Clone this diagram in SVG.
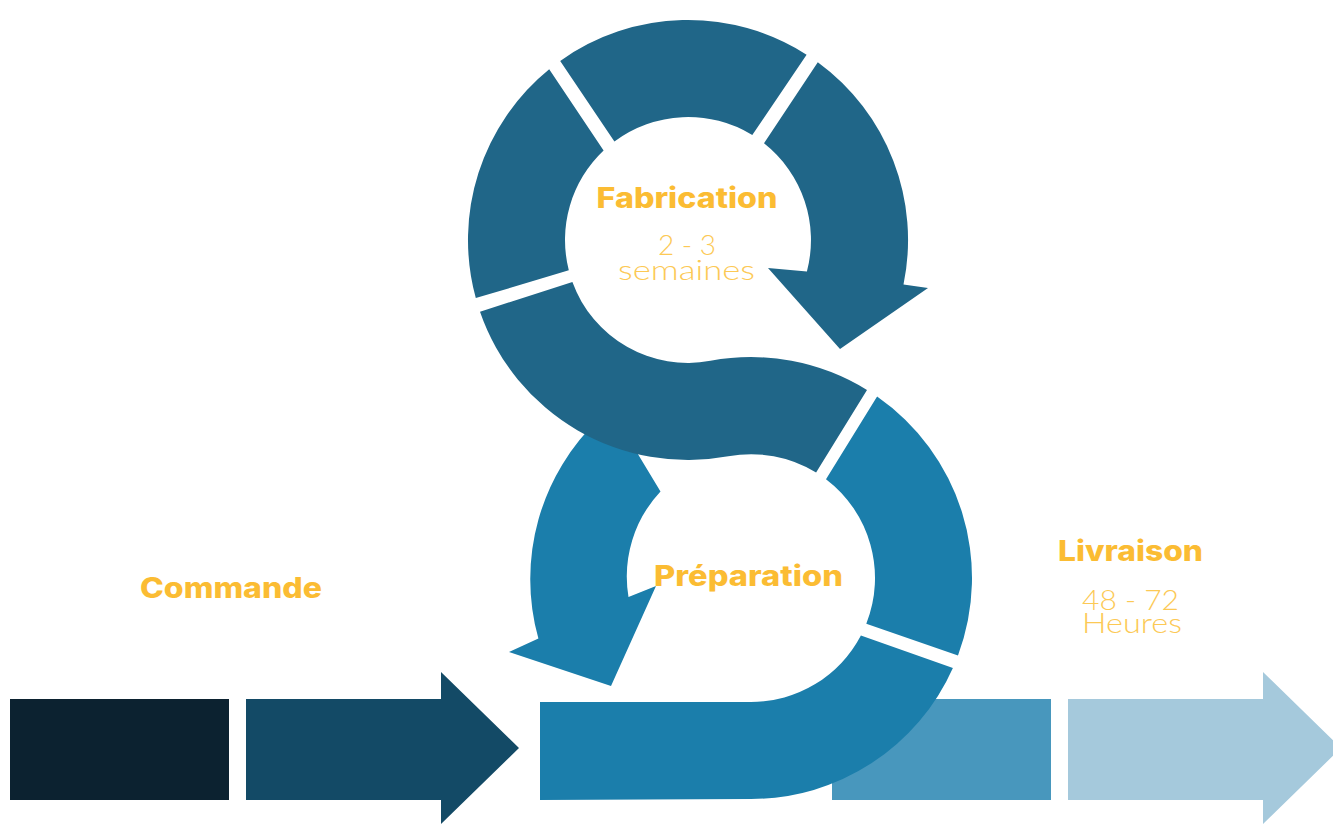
<svg xmlns="http://www.w3.org/2000/svg" width="1333" height="824" viewBox="0 0 1333 824">
<style>
.up{fill:#206688}
.lo{fill:#1b7eab}
.t{font-family:Inter,"Noto Sans","Liberation Sans",sans-serif;font-weight:800;font-size:28px;fill:#fbbc33;text-anchor:middle}
.s{font-family:Lato,"Open Sans","Liberation Sans",sans-serif;font-weight:300;font-size:27px;fill:#fcc955;text-anchor:middle}
</style>
<rect width="1333" height="824" fill="#ffffff"/>
<g id="connectors">
<g id="bar1"><rect x="10" y="699" width="219" height="101" fill="#0c2230"/></g>
<g id="bar2"><path d="M246,699 H441 V672 L519,748 L441,824 V800 H246 Z" fill="#134a66"/></g>
<g id="bar4"><rect x="832" y="699" width="219" height="101" fill="#4897bd"/></g>
<g id="bar5"><path d="M1068,699 H1263 V672 L1341,748 L1263,824 V800 H1068 Z" fill="#a5c9dc"/></g>
</g>
<g id="preparation-ring">
<path class="lo" d="M952.9,667.9 A221 221 0 0 1 751,799 L540,800 L540,702 L751,702 A124 124 0 0 0 860.9,635.5 Z"/>
<path class="lo" d="M877.1,396.5 A221 221 0 0 1 958,655.4 L866.3,623.7 A124 124 0 0 0 826,479.3 Z"/>
<path class="lo" d="M638,454.2 L660.5,491.5 A124 124 0 0 0 628.5,596.9 L656,586 L611,686 L509,652 L538.4,638.6 A221 221 0 0 1 600,418 L640,440 Z"/>
</g>
<g id="fabrication-ring">
<path class="up" d="M480,311.7 A220 220 0 0 0 728.3,456.3 A124 124 0 0 1 816.1,472.5 L867,390 A221 221 0 0 0 710.5,360.8 A123 123 0 0 1 572.4,282.1 Z"/>
<path class="up" d="M560.2,60.9 A220 220 0 0 1 806.6,54.7 L752.3,135.1 A123 123 0 0 0 614.4,141.5 Z"/>
<path class="up" d="M475.8,298.1 A220 220 0 0 1 549.2,69.3 L603.6,150.5 A123 123 0 0 0 568.8,270.3 Z"/>
<path class="up" d="M817.8,62.3 A220 220 0 0 1 903.5,284.5 L928,288 L840,349 L768,268 L806.9,271.4 A123 123 0 0 0 764,143.3 Z"/>
</g>
<g id="commande"><text class="t" x="231" y="598" textLength="182" lengthAdjust="spacingAndGlyphs">Commande</text></g>
<g id="fabrication">
<text class="t" x="687" y="208" textLength="181" lengthAdjust="spacingAndGlyphs">Fabrication</text>
<text class="s" x="687" y="255" textLength="58" lengthAdjust="spacingAndGlyphs">2 - 3</text>
<text class="s" x="686.5" y="280" textLength="137" lengthAdjust="spacingAndGlyphs">semaines</text>
</g>
<g id="preparation"><text class="t" x="748.5" y="586" textLength="189" lengthAdjust="spacingAndGlyphs">Préparation</text></g>
<g id="livraison">
<text class="t" x="1130.5" y="561" textLength="145" lengthAdjust="spacingAndGlyphs">Livraison</text>
<text class="s" x="1130.5" y="610" textLength="97" lengthAdjust="spacingAndGlyphs">48 - 72</text>
<text class="s" x="1132" y="633" textLength="100" lengthAdjust="spacingAndGlyphs">Heures</text>
</g>
</svg>
